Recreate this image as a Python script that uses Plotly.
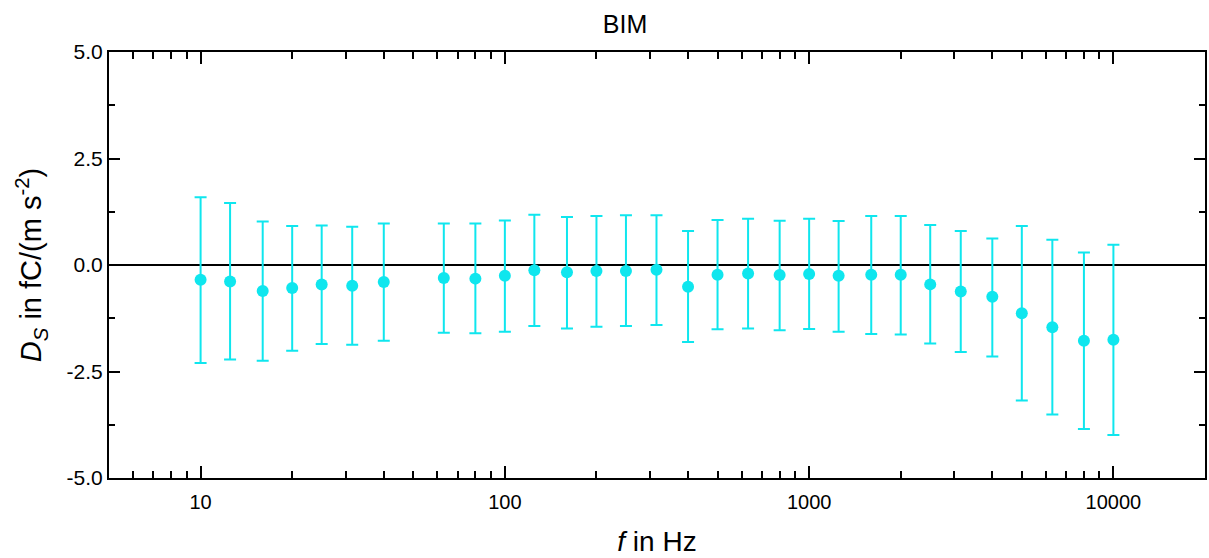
import numpy as np
import plotly.graph_objects as go

# Frequencies (Hz)
freq = [10, 12.5, 16, 20, 25, 31.5, 40, 63, 80, 100, 125, 160, 200, 250, 315,
        400, 500, 630, 800, 1000, 1250, 1600, 2000, 2500, 3150, 4000, 5000,
        6300, 8000, 10000]
# D_S values in fC/(m s^-2)
ds = [-0.345, -0.385, -0.61, -0.54, -0.46, -0.485, -0.40, -0.305, -0.32, -0.25,
      -0.125, -0.17, -0.14, -0.14, -0.11, -0.51, -0.23, -0.20, -0.235, -0.21,
      -0.25, -0.23, -0.23, -0.455, -0.62, -0.745, -1.135, -1.46, -1.78, -1.755]
# upper / lower ends of the uncertainty bars
upper = [1.59, 1.455, 1.02, 0.915, 0.93, 0.90, 0.977, 0.977, 0.977, 1.047,
         1.18, 1.125, 1.15, 1.165, 1.17, 0.80, 1.055, 1.087, 1.04, 1.087,
         1.03, 1.15, 1.15, 0.94, 0.80, 0.625, 0.915, 0.594, 0.296, 0.476]
lower = [-2.30, -2.22, -2.25, -2.01, -1.855, -1.87, -1.78, -1.59, -1.605, -1.565,
         -1.43, -1.49, -1.45, -1.43, -1.41, -1.81, -1.51, -1.49, -1.53, -1.50,
         -1.565, -1.62, -1.63, -1.84, -2.04, -2.15, -3.18, -3.51, -3.85, -3.99]

x_tickvals = [10, 100, 1000, 10000]
x_ticktext = ["10", "100", "1000", "10000"]
y_tickvals = [-5, -2.5, 0, 2.5, 5]
y_ticktext = ["-5.0", "-2.5", "0.0", "2.5", "5.0"]

err_plus = [u - d for u, d in zip(upper, ds)]
err_minus = [d - l for d, l in zip(ds, lower)]

color = "#0FE6EE"
font_family = "Arial, Liberation Sans, sans-serif"

fig = go.Figure()
fig.add_trace(go.Scatter(
    x=freq, y=ds, mode="markers",
    marker=dict(color=color, size=12),
    error_y=dict(type="data", symmetric=False, array=err_plus,
                 arrayminus=err_minus, color=color, thickness=2, width=6),
    showlegend=False,
))

minor_x = [m * 10 ** e for e in range(0, 5) for m in range(2, 10)
           if 5 <= m * 10 ** e <= 20000]

fig.update_layout(
    width=1209, height=558,
    margin=dict(l=109, r=2, t=52, b=80),
    paper_bgcolor="white", plot_bgcolor="white",
    font=dict(family=font_family, color="black", size=20),
    title=dict(text="BIM", x=625 / 1209, xanchor="center", y=1 - 24 / 558,
               yanchor="middle", font=dict(size=25, family=font_family)),
    shapes=[dict(type="line", xref="paper", x0=0, x1=1, yref="y", y0=0, y1=0,
                 line=dict(color="black", width=2), layer="below")],
)
fig.update_xaxes(
    type="log", range=[np.log10(5), np.log10(20000)],
    tickvals=x_tickvals, ticktext=x_ticktext,
    ticks="inside", ticklen=12, tickwidth=1.5, tickcolor="black",
    showline=True, linecolor="black", linewidth=2, mirror="ticks",
    showgrid=False, zeroline=False, ticklabelstandoff=5,
    minor=dict(tickvals=minor_x, ticks="inside", ticklen=7, tickwidth=1.5,
               tickcolor="black", showgrid=False),
    title=dict(text="<i>f</i> in Hz", font=dict(size=28), standoff=19),
    tickfont=dict(size=20),
)
fig.update_yaxes(
    range=[-5, 5], tickvals=y_tickvals, ticktext=y_ticktext,
    ticks="inside", ticklen=11, tickwidth=1.5, tickcolor="black",
    showline=True, linecolor="black", linewidth=2, mirror="ticks",
    showgrid=False, zeroline=False,
    minor=dict(dtick=1.25, tick0=0, ticks="inside", ticklen=6, tickwidth=1.5,
               tickcolor="black", showgrid=False),
    title=dict(text="<i>D</i><sub><i>S</i></sub> in fC/(m s<sup>-2</sup>)",
               font=dict(size=29), standoff=16),
    tickfont=dict(size=21),
)

fig.write_html("out.html")
